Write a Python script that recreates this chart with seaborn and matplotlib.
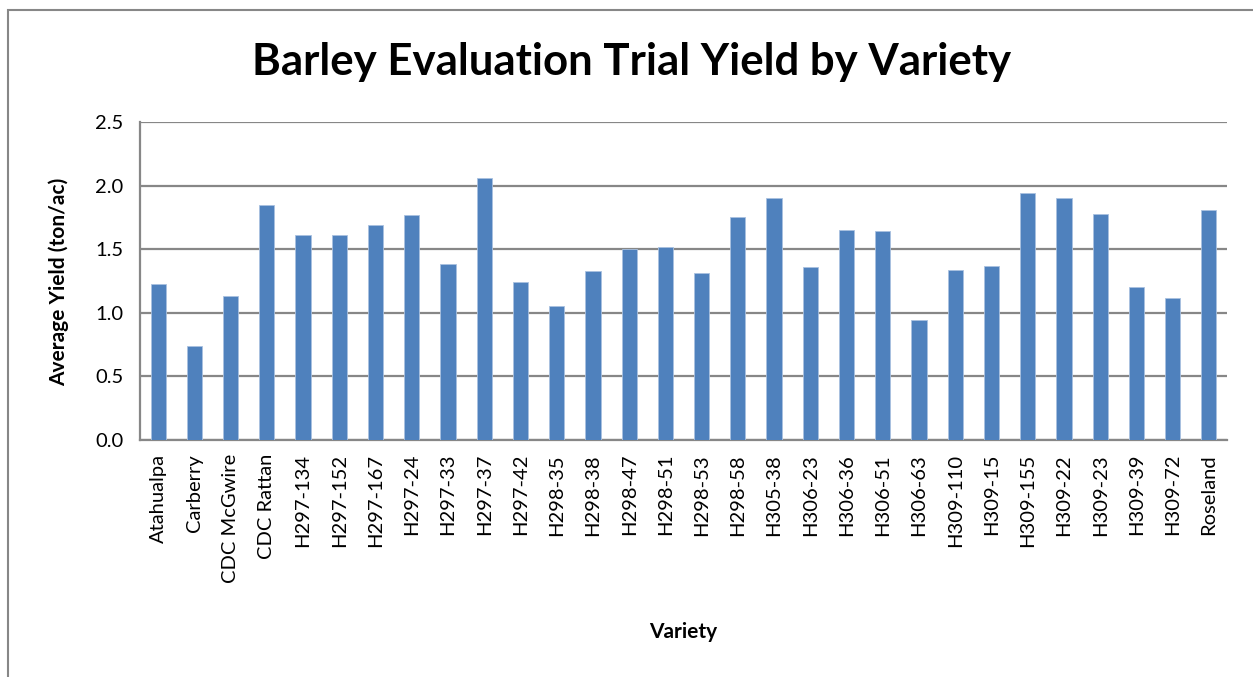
import numpy as np
import pandas as pd
import matplotlib
matplotlib.use("Agg")
import matplotlib.pyplot as plt
import seaborn as sns
from matplotlib.patches import Rectangle

# datos
varieties = ["Atahualpa", "Carberry", "CDC McGwire", "CDC Rattan", "H297-134", "H297-152",
             "H297-167", "H297-24", "H297-33", "H297-37", "H297-42", "H298-35", "H298-38",
             "H298-47", "H298-51", "H298-53", "H298-58", "H305-38", "H306-23", "H306-36",
             "H306-51", "H306-63", "H309-110", "H309-15", "H309-155", "H309-22", "H309-23",
             "H309-39", "H309-72", "Roseland"]
yields = [1.23, 0.74, 1.13, 1.85, 1.61, 1.61, 1.69, 1.77, 1.38, 2.06, 1.24, 1.05, 1.33,
          1.50, 1.52, 1.31, 1.75, 1.90, 1.36, 1.65, 1.64, 0.94, 1.34, 1.37, 1.94, 1.90,
          1.78, 1.20, 1.12, 1.81]

df = pd.DataFrame({"Variety": varieties, "Yield": yields})

sns.set_style("white")
plt.rcParams["font.family"] = ["Lato", "DejaVu Sans"]
plt.rcParams["text.color"] = "black"
plt.rcParams["xtick.color"] = "black"
plt.rcParams["ytick.color"] = "black"
plt.rcParams["axes.labelcolor"] = "black"

fig = plt.figure(figsize=(12.53, 6.77), dpi=100)
ax = fig.add_axes([140 / 1253, 1 - 440 / 677, (1227 - 140) / 1253, (440 - 122) / 677])

grid_col = "#878787"
sns.barplot(data=df, x="Variety", y="Yield", color="#4F81BD", saturation=1,
            width=0.42, ax=ax, zorder=3, edgecolor="#A9C1E0", linewidth=0.6)

ax.set_xlim(-0.5, len(varieties) - 0.5)
ax.set_ylim(0, 2.5)
ax.set_yticks(np.arange(0, 2.51, 0.5))
ax.set_yticklabels([f"{v:.1f}" for v in np.arange(0, 2.51, 0.5)], fontsize=14.5)
ax.yaxis.grid(True, color=grid_col, linewidth=1.6, zorder=0)
ax.set_axisbelow(True)

# etiquetas en categorias, marcas en los limites
ax.set_xticks(range(len(varieties)))
ax.set_xticklabels(varieties, rotation=90, fontsize=14.5, va="top", ha="center")
ax.set_xticks(np.arange(-0.5, len(varieties)), minor=True)
ax.tick_params(axis="x", which="major", length=0, pad=10, colors="black")
ax.tick_params(axis="x", which="minor", length=8, width=1.6, color=grid_col, direction="out")
ax.tick_params(axis="y", length=8, width=1.6, color=grid_col, labelcolor="black",
               direction="out", pad=4)

for s in ["top", "right"]:
    ax.spines[s].set_visible(False)
for s in ["left", "bottom"]:
    ax.spines[s].set_color(grid_col)
    ax.spines[s].set_linewidth(1.6)

ax.set_xlabel("")
ax.set_ylabel("")
fig.text(683 / 1253, 1 - 632 / 677, "Variety", ha="center", va="center",
         fontsize=15, fontweight="bold")
fig.text(59 / 1253, 1 - 282 / 677, "Average Yield (ton/ac)", ha="center", va="center",
         rotation=90, fontsize=15, fontweight="bold")

fig.text(632 / 1253, 1 - 62 / 677, "Barley Evaluation Trial Yield by Variety",
         ha="center", va="center", fontsize=31.5, fontweight="bold")

# marco exterior del grafico
fig.patches.append(Rectangle((8 / 1253, -0.1), 1.2, 1 - 10 / 677 + 0.1,
                             transform=fig.transFigure, fill=False,
                             edgecolor=grid_col, linewidth=1.5))

fig.savefig("out.png", dpi=100)
